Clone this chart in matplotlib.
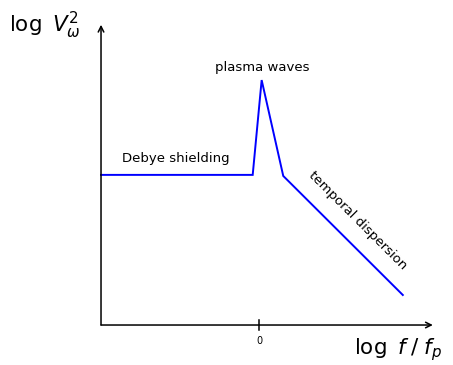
import matplotlib
matplotlib.use("Agg")
import matplotlib.pyplot as plt

plt.rcParams['font.family'] = ['DejaVu Sans']
plt.rcParams['mathtext.fontset'] = 'dejavusans'

# Schematic spectrum: log frequency vs log power
log_f = [-3.0, -0.12, 0.05, 0.46, 2.73]
log_v2 = [2.85, 2.85, 4.65, 2.83, 0.57]
tick_positions = [0]
tick_labels = ["0"]

fig = plt.figure(figsize=(4.53, 3.65), dpi=100)
ax = fig.add_axes([0, 0, 1, 1])
ax.set_xlim(-4.918, 3.683)
ax.set_ylim(-0.759, 6.170)
ax.axis('off')

arrow = dict(arrowstyle='->', lw=1.1, color='black', shrinkA=0, shrinkB=0,
             mutation_scale=10)
ax.annotate('', xy=(3.30, 0), xytext=(-3.0, 0), arrowprops=arrow)
ax.annotate('', xy=(-3.0, 5.70), xytext=(-3.0, 0), arrowprops=arrow)

for xp, lab in zip(tick_positions, tick_labels):
    ax.plot([xp, xp], [-0.09, 0.09], color='black', lw=1.1)
    ax.text(xp, -0.30, lab, ha='center', va='center', fontsize=7)

ax.plot(log_f, log_v2, color='#0000ff', lw=1.4, solid_joinstyle='miter')

ax.text(-1.576, 3.17, 'Debye shielding', ha='center', va='center', fontsize=9.5)
ax.text(0.057, 4.88, 'plasma waves', ha='center', va='center', fontsize=9.5)
ax.text(1.88, 1.99, 'temporal dispersion', ha='center', va='center',
        fontsize=9.5, rotation=-45, rotation_mode='anchor')

ax.text(-4.74, 5.56, r'log $\,V_{\omega}^{2}$', ha='left', va='baseline',
        fontsize=15.5)
ax.text(1.80, -0.55, r'log $\,f\;/\;f_{p}$', ha='left', va='baseline',
        fontsize=15.5)

fig.savefig('out.png', dpi=100)
